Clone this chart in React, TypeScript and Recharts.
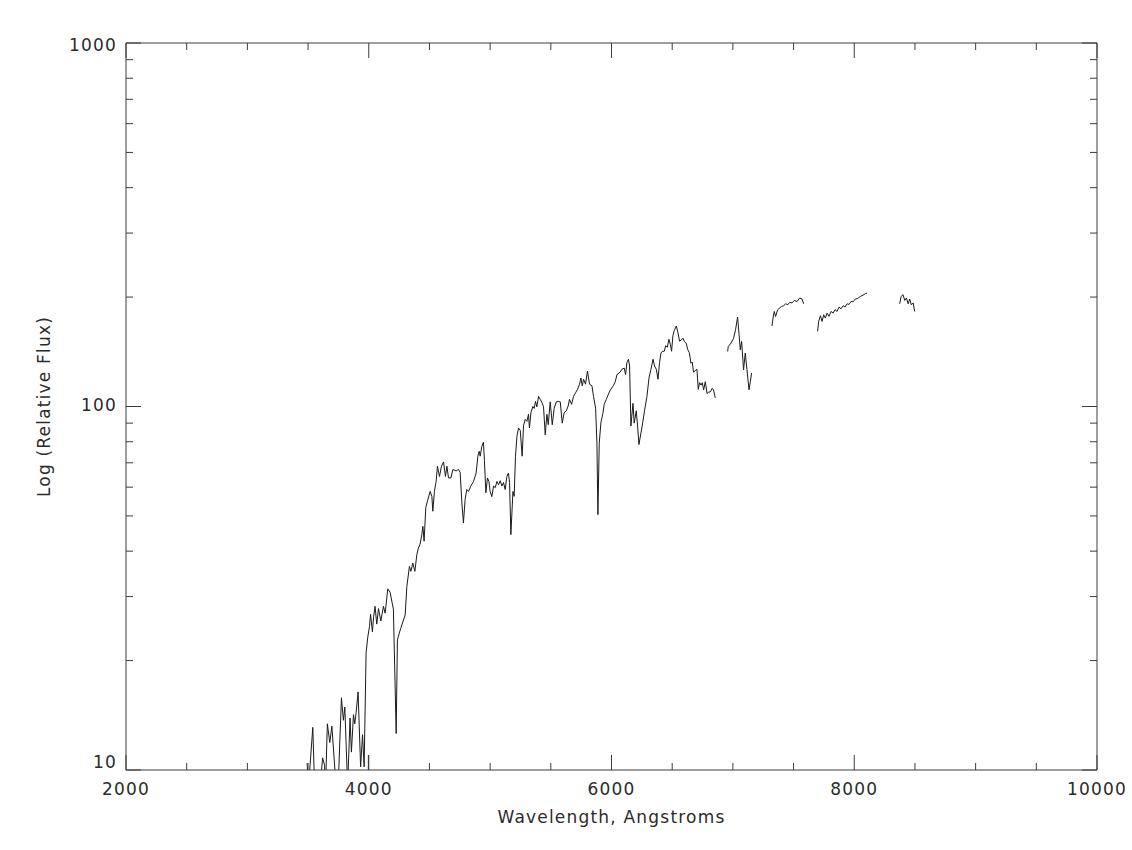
import { LineChart, Line, XAxis, YAxis, Label } from "recharts";

// spectrum pieces (wavelength in Angstroms, relative flux)
const wave1 = [
  3492, 3504, 3539, 3554, 3599, 3620, 3636, 3644, 3659, 3679, 3696, 3731, 3748, 3775, 3791, 3803, 3826, 3846,
  3857, 3874, 3885, 3896, 3912, 3933, 3949, 3962, 3978, 3992, 4006, 4015, 4030, 4040, 4052, 4066, 4080, 4100,
  4121, 4135, 4157, 4176, 4203, 4226, 4236, 4250, 4263, 4275, 4300, 4314, 4335, 4347, 4363, 4380, 4396, 4409,
  4423, 4437, 4446, 4456, 4470, 4484, 4506, 4520, 4528, 4541, 4555, 4566, 4583, 4599, 4616, 4632, 4644, 4657,
  4677, 4693, 4720, 4739, 4753, 4767, 4780, 4794, 4808, 4822, 4841, 4863, 4885, 4899, 4910, 4918, 4932, 4945,
  4953, 4965, 4978, 4990, 5000, 5014, 5028, 5042, 5056, 5069, 5083, 5097, 5110, 5124, 5138, 5151, 5160, 5171,
  5188, 5198, 5209, 5221, 5234, 5248, 5264, 5275, 5289, 5303, 5316, 5324, 5336, 5352, 5363, 5374, 5385, 5399,
  5413, 5427, 5440, 5454, 5468, 5479, 5495, 5512, 5528, 5545, 5563, 5578, 5594, 5610, 5627, 5643, 5654, 5671,
  5687, 5704, 5720, 5737, 5748, 5759, 5770, 5786, 5802, 5819, 5839, 5852, 5869, 5880, 5888, 5899, 5913, 5929,
  5940, 5957, 5975, 5990, 6017, 6031, 6045, 6072, 6086, 6105, 6116, 6127, 6140, 6149, 6160, 6177, 6187, 6204,
  6215, 6226, 6243, 6259, 6272, 6292, 6309, 6325, 6342, 6355, 6369, 6383, 6396, 6408, 6424, 6435, 6446, 6460,
  6473, 6484, 6495, 6506, 6517, 6534, 6548, 6561, 6575, 6589, 6602, 6616, 6627, 6641, 6655, 6665, 6676, 6690,
  6704, 6715, 6726, 6738, 6748, 6759, 6773, 6787, 6800, 6814, 6830, 6841, 6855,
];
const flux1 = [
  10.45, 9, 13.1, 9, 9, 10.8, 10.3, 9, 13.4, 11.9, 13.2, 9, 9, 15.8, 13.7, 14.9, 9, 13.9,
  11.2, 14.2, 13.4, 14.4, 16.4, 10.2, 12.5, 10.2, 21.0, 23.2, 24.8, 26.8, 24.0, 26.4, 28.2, 25.2, 27.8, 25.7,
  28.2, 27.0, 31.5, 30.8, 27.7, 12.6, 22.8, 23.7, 24.5, 25.2, 26.7, 32.0, 36.3, 35.2, 37.1, 35.2, 39.1, 40.8,
  41.8, 44.4, 46.8, 42.6, 52.7, 55.0, 58.4, 56.6, 51.5, 58.4, 62.2, 68.5, 64.2, 68.5, 70.4, 64.2, 68.5, 63.6,
  63.6, 67.1, 66.5, 67.1, 65.9, 54.4, 47.8, 55.5, 59.1, 58.4, 60.4, 62.2, 65.6, 73.0, 75.3, 73.0, 77.7, 79.8,
  71.0, 57.9, 63.6, 62.2, 58.4, 56.5, 60.4, 59.8, 62.2, 60.9, 62.5, 60.4, 61.8, 59.1, 64.2, 65.6, 61.8, 44.4,
  58.4, 56.6, 73.0, 82.8, 87.3, 86.0, 73.0, 88.5, 92.2, 91.0, 95.2, 87.3, 96.2, 100, 98.8, 103.3, 99.8, 106.6,
  104.6, 102.5, 99.8, 83.6, 95.2, 89.1, 103.0, 89.1, 98.9, 103.0, 103.3, 103.0, 90.0, 96.2, 97.2, 100.3, 104.6, 101.4,
  106.6, 109.1, 111.5, 115.2, 119.8, 114.0, 118.8, 115.2, 125.2, 115.2, 114.0, 106.6, 98.9, 79.3, 50.4, 79.3, 90.5, 95.7,
  101.4, 104.6, 108.2, 111.0, 114.3, 117.0, 122.4, 124.5, 126.6, 127.5, 122.4, 132.2, 134.9, 129.2, 88.4, 102, 90.0, 97.3,
  88.4, 78.6, 84.6, 91.0, 97.3, 106.6, 119.8, 126.6, 134.9, 129.2, 126.6, 118.8, 132.2, 140.6, 141.9, 141.9, 146.9, 145.6,
  153.1, 148.4, 141.9, 156.8, 161.7, 166.5, 159.4, 151.2, 152.4, 154.1, 150.6, 149.2, 143.7, 140.6, 131.5, 132.5, 124.3, 125.5,
  126.6, 111.5, 116.3, 114.5, 116.3, 111.0, 117.0, 108.6, 109.5, 109.7, 112.2, 111.0, 105.6,
];

const waveStub = [3997, 3997];
const fluxStub = [11.0, 9];

const wave2 = [6957, 6962, 6985, 7006, 7022, 7039, 7050, 7061, 7072, 7088, 7102, 7116, 7133, 7144, 7154];
const flux2 = [141.7, 146.2, 149.5, 154.0, 162.6, 176.2, 159.2, 143.2, 151.0, 126.2, 140.3, 126.2, 111.2, 117.2, 123.6];

const wave3 = [7322, 7331, 7341, 7352, 7369, 7385, 7402, 7418, 7435, 7452, 7468, 7487, 7506, 7529, 7550, 7570, 7583];
const flux3 = [166.5, 175.1, 182.6, 176.9, 184.6, 186.6, 188.5, 189.3, 191.7, 190.5, 193.3, 192.7, 195.8, 194.5, 198.8, 197.5, 191.7];

const wave4 = [
  7698, 7707, 7721, 7735, 7748, 7762, 7776, 7792, 7809, 7825, 7842, 7858, 7875, 7891, 7908, 7924, 7941, 7957,
  7974, 7990, 8009, 8028, 8050, 8072, 8091, 8106,
];
const flux4 = [
  160.9, 171.4, 177.7, 171.4, 178.8, 175.1, 180.7, 176.9, 182.6, 180.7, 184.6, 182.6, 187.8, 185.7, 189.3, 187.8, 191.7, 190.9,
  194.5, 194.1, 197.5, 198.2, 200.8, 202.4, 204.3, 205.1,
];

const wave5 = [8374, 8386, 8402, 8416, 8430, 8444, 8457, 8471, 8485, 8498];
const flux5 = [191.7, 200.8, 203.0, 195.8, 198.8, 191.7, 197.5, 190.5, 192.7, 182.6];

const xTicks = [2000, 2500, 3000, 3500, 4000, 4500, 5000, 5500, 6000, 6500, 7000, 7500, 8000, 8500, 9000, 9500, 10000];
const xMajor = [2000, 4000, 6000, 8000, 10000];
const yTicks = [10, 20, 30, 40, 50, 60, 70, 80, 90, 100, 200, 300, 400, 500, 600, 700, 800, 900, 1000];
const yMajor = [10, 100, 1000];

const toPoints = (w: number[], f: number[]) => w.map((x, i) => ({ w: x, f: f[i] }));

const segments = [
  toPoints(wave1, flux1),
  toPoints(waveStub, fluxStub),
  toPoints(wave2, flux2),
  toPoints(wave3, flux3),
  toPoints(wave4, flux4),
  toPoints(wave5, flux5),
];

const INK = "#2b2b2b";
const AXIS = "#3c3c3c";
const FONT = "'DejaVu Sans', sans-serif";
const textStyle = { fontFamily: FONT, fontSize: 17, fill: INK, letterSpacing: 1.2 };

const BottomTick = (p: any) => {
  const v = p.payload.value;
  const major = xMajor.includes(v);
  return (
    <g>
      <line x1={p.x} y1={p.y} x2={p.x} y2={p.y - (major ? 15 : 7)} stroke={AXIS} />
      {major && (
        <text x={p.x} y={p.y + 25} textAnchor="middle" style={textStyle}>
          {v}
        </text>
      )}
    </g>
  );
};

const TopTick = (p: any) => {
  const major = xMajor.includes(p.payload.value);
  return <line x1={p.x} y1={p.y} x2={p.x} y2={p.y + (major ? 15 : 7)} stroke={AXIS} />;
};

// IDL nudges the log labels a little differently at each decade
const yShift: Record<number, number> = { 10: -2, 100: 4, 1000: 8 };

const LeftTick = (p: any) => {
  const v = p.payload.value;
  const major = yMajor.includes(v);
  return (
    <g>
      <line x1={p.x} y1={p.y} x2={p.x + (major ? 15 : 7)} y2={p.y} stroke={AXIS} />
      {major && (
        <text x={p.x - 9} y={p.y + yShift[v]} textAnchor="end" style={textStyle}>
          {v}
        </text>
      )}
    </g>
  );
};

const RightTick = (p: any) => {
  const major = yMajor.includes(p.payload.value);
  return <line x1={p.x} y1={p.y} x2={p.x - (major ? 15 : 7)} y2={p.y} stroke={AXIS} />;
};

const XTitle = (p: any) => {
  const vb = p.viewBox;
  return (
    <text x={vb.x + vb.width / 2} y={vb.y + 53} textAnchor="middle" style={textStyle}>
      Wavelength, Angstroms
    </text>
  );
};

const YTitle = (p: any) => {
  const vb = p.viewBox;
  const cx = vb.x + vb.width - 82;
  const cy = vb.y + vb.height / 2;
  return (
    <text
      x={cx}
      y={cy}
      textAnchor="middle"
      dominantBaseline="central"
      transform={`rotate(-90 ${cx} ${cy})`}
      style={textStyle}
    >
      Log (Relative Flux)
    </text>
  );
};

export default function App() {
  return (
    <div style={{ position: "absolute", left: 0, top: 0, background: "#fff" }}>
      <LineChart width={1132} height={850} margin={{ top: 33, right: 25, bottom: 20, left: 66 }}>
        <XAxis
          dataKey="w"
          type="number"
          domain={[2000, 10000]}
          ticks={xTicks}
          interval={0}
          allowDataOverflow
          height={60}
          tickSize={0}
          tickMargin={0}
          tickLine={false}
          tick={BottomTick}
          axisLine={{ stroke: AXIS }}
        >
          <Label content={XTitle} />
        </XAxis>
        <XAxis
          xAxisId="top"
          orientation="top"
          dataKey="w"
          type="number"
          domain={[2000, 10000]}
          ticks={xTicks}
          interval={0}
          allowDataOverflow
          height={10}
          tickSize={0}
          tickMargin={0}
          tickLine={false}
          tick={TopTick}
          axisLine={{ stroke: AXIS }}
        />
        <YAxis
          type="number"
          scale="log"
          domain={[10, 1000]}
          ticks={yTicks}
          interval={0}
          allowDataOverflow
          width={60}
          tickSize={0}
          tickMargin={0}
          tickLine={false}
          tick={LeftTick}
          axisLine={{ stroke: AXIS }}
        >
          <Label content={YTitle} />
        </YAxis>
        <YAxis
          yAxisId="right"
          orientation="right"
          type="number"
          scale="log"
          domain={[10, 1000]}
          ticks={yTicks}
          interval={0}
          allowDataOverflow
          width={10}
          tickSize={0}
          tickMargin={0}
          tickLine={false}
          tick={RightTick}
          axisLine={{ stroke: AXIS }}
        />
        {segments.map((seg, i) => (
          <Line
            key={i}
            data={seg}
            dataKey="f"
            type="linear"
            stroke="#1a1a1a"
            strokeWidth={1}
            dot={false}
            activeDot={false}
            isAnimationActive={false}
          />
        ))}
      </LineChart>
    </div>
  );
}
